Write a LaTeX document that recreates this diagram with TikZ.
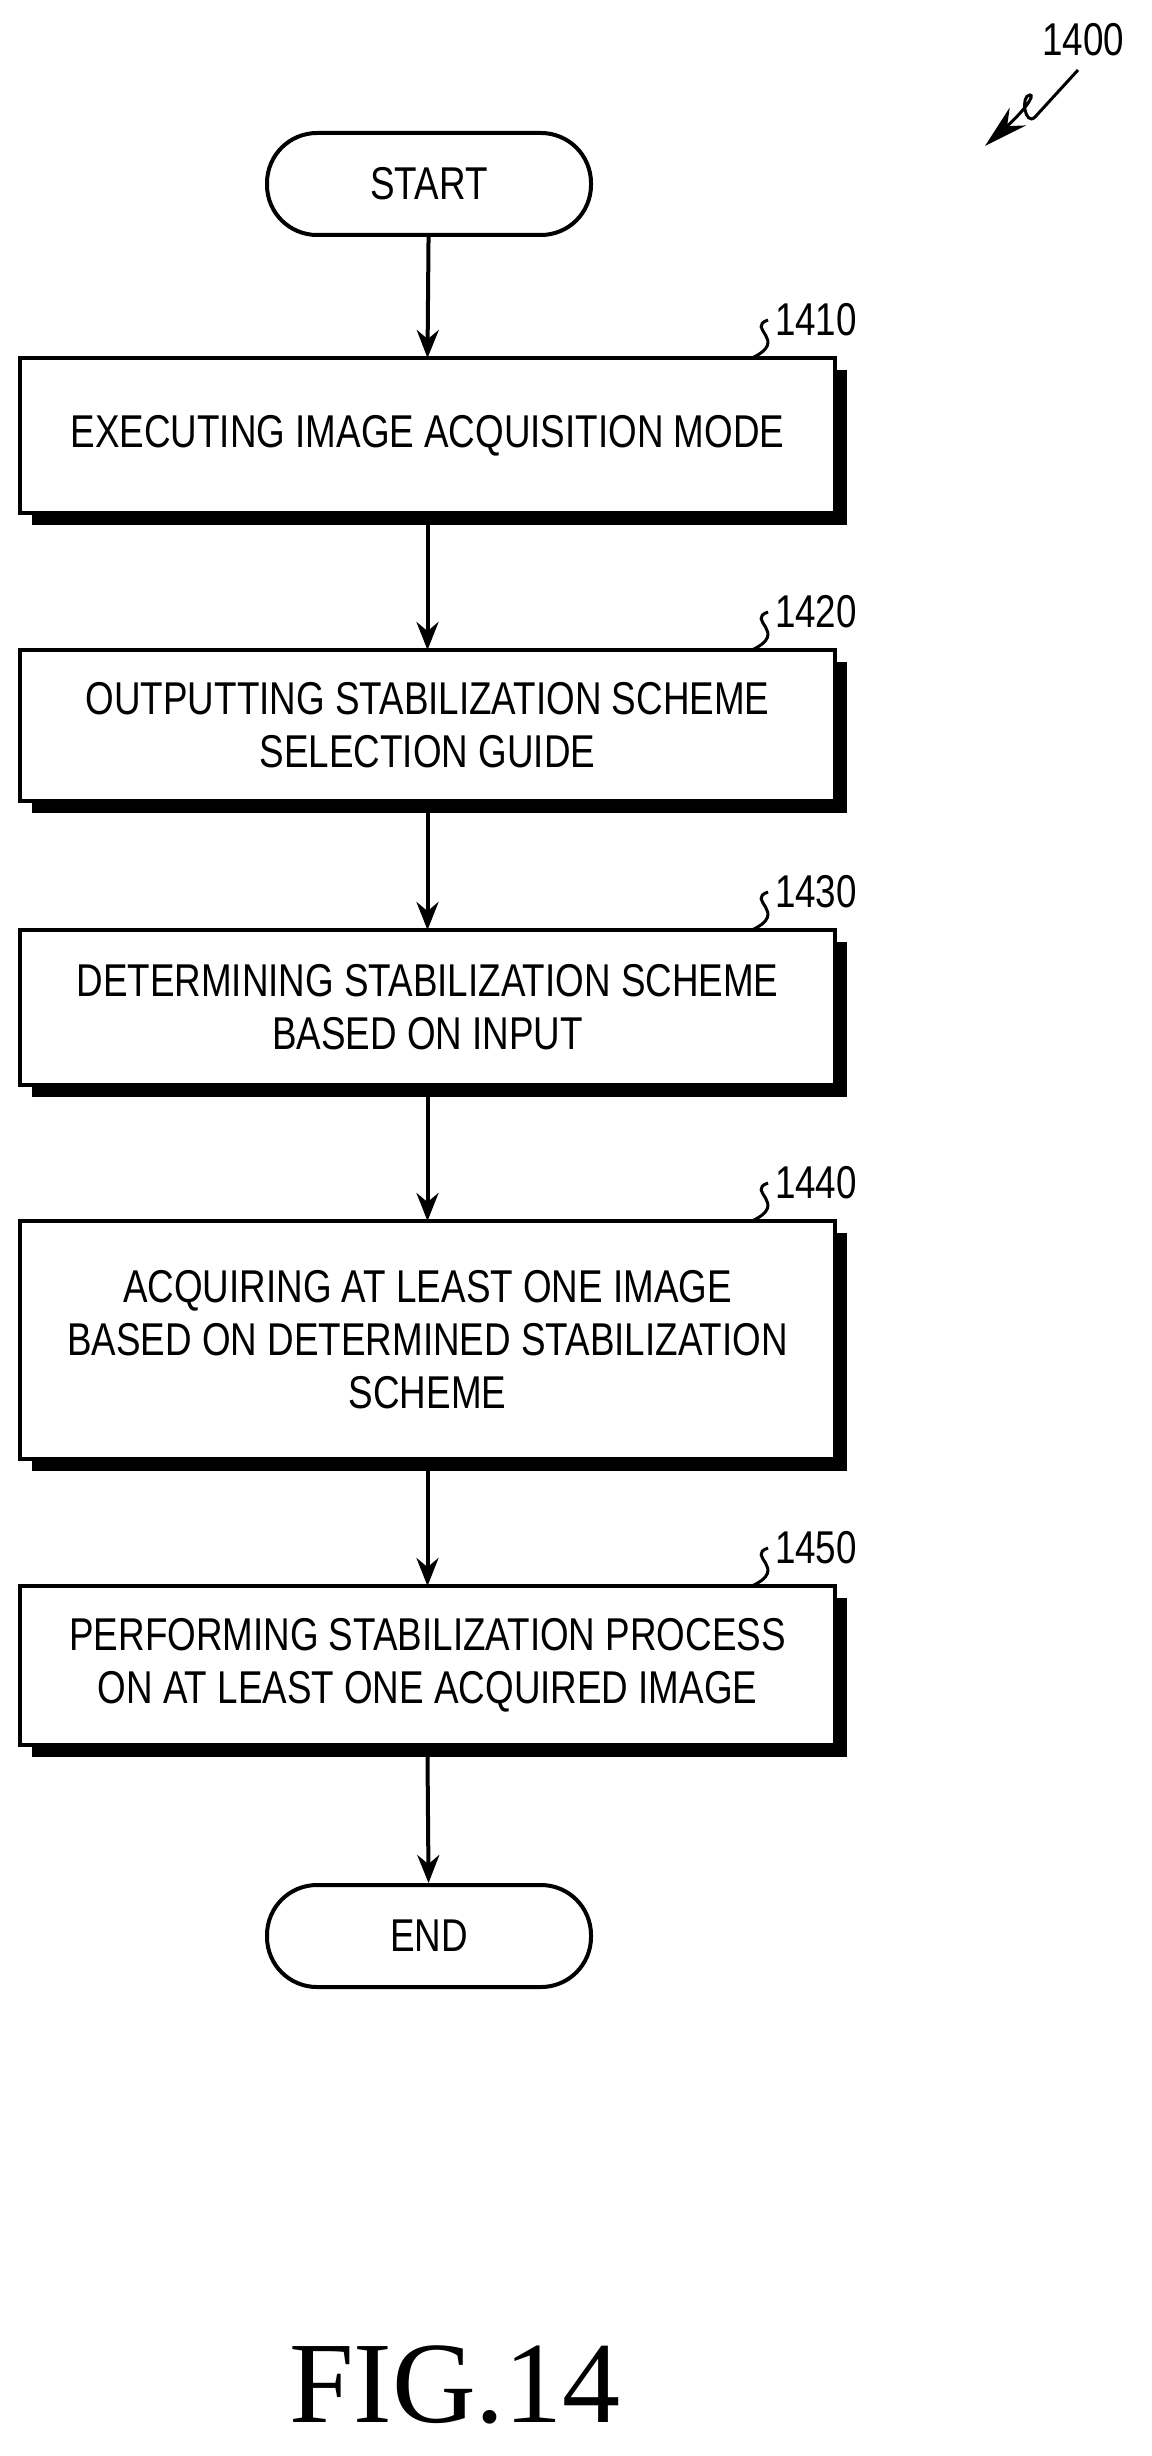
\documentclass[tikz,border=0pt]{standalone}
\usepackage{fontspec}
\setmainfont{Liberation Sans}[FakeStretch=0.8]
\newfontfamily\figfont{Liberation Serif}
\usetikzlibrary{positioning,arrows.meta}

\tikzset{
  term/.style={draw, line width=2pt, rounded corners=25pt, minimum width=162pt, minimum height=51pt,
    font=\fontsize{23}{26.5}\selectfont},
  flow/.style={-{Stealth[length=14pt,width=11pt]}, line width=2pt},
  reflabel/.style={font=\fontsize{23}{26.5}\selectfont}
}

\begin{document}
\begin{tikzpicture}[x=0.5pt,y=-0.5pt]
\useasboundingbox (0,0) rectangle (1151,2456);

% terminals
\node[term] (start) at (429,184) {START};
\node[term] (end) at (429,1936) {END};

% step boxes with shadows
\foreach \name/\ya/\yb/\txt/\lbl in {
  s1410/358/513/{EXECUTING IMAGE ACQUISITION MODE}/1410,
  s1420/650/801/{OUTPUTTING STABILIZATION SCHEME\\SELECTION GUIDE}/1420,
  s1430/930/1085/{DETERMINING STABILIZATION SCHEME\\BASED ON INPUT}/1430,
  s1440/1221/1459/{ACQUIRING AT LEAST ONE IMAGE\\BASED ON DETERMINED STABILIZATION\\SCHEME}/1440,
  s1450/1586/1745/{PERFORMING STABILIZATION PROCESS\\ON AT LEAST ONE ACQUIRED IMAGE}/1450}{
  \fill (32,\ya+12) rectangle (847,\yb+12);
  \draw[line width=2pt, fill=white] (20,\ya) rectangle (835,\yb);
  \node[font=\fontsize{23}{26.5}\selectfont, align=center] (\name) at (427.5,{(\ya+\yb)/2}) {\txt};
  \coordinate (\name-top) at (427.5,\ya);
  \coordinate (\name-bot) at (427.5,\yb+12);
  \node[reflabel, anchor=west] (\name-l) at (768,\ya-38) {\lbl};
  \draw[line width=1.5pt] (752,\ya) .. controls (790,\ya-18) and (745,\ya-30) .. (\name-l.west);
}

% connectors
\draw[flow] (start) -- (s1410-top);
\draw[flow] (s1410-bot) -- (s1420-top);
\draw[flow] (s1420-bot) -- (s1430-top);
\draw[flow] (s1430-bot) -- (s1440-top);
\draw[flow] (s1440-bot) -- (s1450-top);
\draw[flow] (s1450-bot) -- (end);

% figure reference
\node[reflabel, anchor=west] (fig) at (1035,40) {1400};
\coordinate (figtip) at (985,146);
\draw[line width=1.5pt, -{Stealth[length=22pt,width=12pt]}] (1078,70) -- (1035,117)
  .. controls (1025,127) and (1020,95) .. (1030,95) .. controls (1035,95) and (1025,110) .. (figtip);

\node[font=\figfont\fontsize{58}{60}\selectfont] (caption) at (455,2385) {FIG.14};
\end{tikzpicture}
\end{document}
